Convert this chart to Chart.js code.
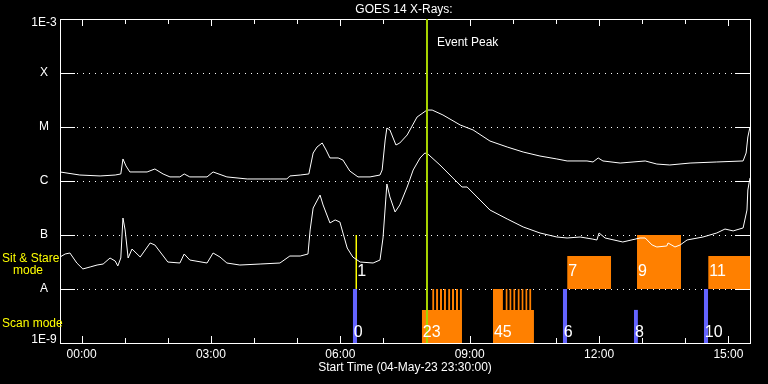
<!DOCTYPE html>
<html lang="en">
<head>
<meta charset="UTF-8">
<title>GOES 14 X-Rays</title>
<script src="https://cdn.jsdelivr.net/npm/chart.js"></script>
<style>
    body { margin: 0; background: #000; }
    canvas { display: block; background: #000; }
</style>
</head>
<body>
<canvas id="xrayChart" width="768" height="384"></canvas>
<script>
// times are hours after 00:00 (plot starts 04-May-23 23:30), flux in W/m^2
const longTimes = [-0.5, -0.04, 0.43, 0.78, 0.91, 0.96, 1.03, 1.12, 1.52, 1.70, 1.89, 2.05, 2.28, 2.38, 2.51, 2.91, 3.05, 3.37, 3.84, 4.37,
    4.76, 4.83, 5.07, 5.27, 5.37, 5.46, 5.58, 5.67, 5.76, 5.95, 6.06, 6.22, 6.41, 6.69, 6.92, 6.97, 7.04, 7.08, 7.15, 7.29,
    7.38, 7.55, 7.78, 8.01, 8.13, 8.38, 8.78, 9.08, 9.47, 9.87, 10.24, 10.63, 11.02, 11.26, 11.72, 11.86, 11.98, 12.09, 12.49, 13.07,
    13.34, 13.64, 14.11, 14.73, 15.34, 15.41, 15.45, 15.5];
const longFlux = [1.47e-6, 1.29e-6, 1.24e-6, 1.29e-6, 1.35e-6, 2.56e-6, 1.90e-6, 1.47e-6, 1.47e-6, 1.67e-6, 1.35e-6, 1.19e-6, 1.19e-6, 1.35e-6, 1.19e-6, 1.19e-6, 1.47e-6, 1.19e-6, 1.09e-6, 1.09e-6,
    1.09e-6, 1.24e-6, 1.29e-6, 1.35e-6, 3.30e-6, 4.26e-6, 5.06e-6, 3.75e-6, 2.67e-6, 2.67e-6, 2.45e-6, 1.53e-6, 1.19e-6, 1.19e-6, 1.29e-6, 1.60e-6, 5.74e-6, 9.58e-6, 8.80e-6, 4.64e-6,
    5.06e-6, 7.11e-6, 1.53e-5, 2.06e-5, 2.06e-5, 1.67e-5, 1.09e-5, 8.80e-6, 5.50e-6, 4.26e-6, 3.44e-6, 2.90e-6, 2.56e-6, 2.35e-6, 2.35e-6, 2.25e-6, 2.67e-6, 2.35e-6, 2.15e-6, 2.35e-6,
    2.06e-6, 1.98e-6, 2.15e-6, 2.25e-6, 2.35e-6, 3.30e-6, 6.53e-6, 1.0e-5];

const shortTimes = [-0.5, -0.38, -0.27, -0.11, 0.03, 0.20, 0.36, 0.50, 0.66, 0.78, 0.84, 0.91, 0.96, 1.01, 1.08, 1.17, 1.36, 1.59, 1.70, 1.93,
    2.00, 2.28, 2.38, 2.51, 2.91, 3.05, 3.21, 3.37, 3.67, 4.14, 4.60, 4.83, 5.07, 5.25, 5.30, 5.37, 5.53, 5.60, 5.76, 5.88,
    5.99, 6.16, 6.29, 6.46, 6.76, 6.92, 6.99, 7.08, 7.15, 7.27, 7.38, 7.55, 7.69, 7.85, 7.96, 8.03, 8.31, 8.61, 8.82, 8.94,
    9.17, 9.47, 9.87, 10.24, 10.63, 11.02, 11.26, 11.56, 11.84, 11.95, 12.00, 12.14, 12.55, 12.95, 13.07, 13.23, 13.34, 13.57, 13.60, 13.76,
    13.88, 14.04, 14.41, 14.73, 14.92, 15.11, 15.34, 15.43, 15.45, 15.5];
const shortFlux = [3.91e-8, 4.45e-8, 4.64e-8, 3.03e-8, 2.35e-8, 2.56e-8, 2.78e-8, 2.90e-8, 3.75e-8, 3.30e-8, 2.67e-8, 3.75e-8, 2.06e-7, 1.24e-7, 3.75e-8, 5.50e-8, 3.91e-8, 7.11e-8, 6.53e-8, 3.75e-8,
    3.16e-8, 3.03e-8, 4.45e-8, 3.44e-8, 3.03e-8, 4.64e-8, 3.91e-8, 3.03e-8, 2.78e-8, 2.90e-8, 3.03e-8, 4.08e-8, 4.08e-8, 4.45e-8, 1.24e-7, 3.16e-7, 5.50e-7, 3.60e-7, 1.67e-7, 1.90e-7,
    1.74e-7, 5.74e-8, 3.91e-8, 3.16e-8, 3.03e-8, 3.44e-8, 8.80e-8, 8.80e-7, 5.06e-7, 2.67e-7, 3.60e-7, 7.74e-7, 1.60e-6, 2.67e-6, 3.30e-6, 3.16e-6, 1.98e-6, 1.14e-6, 7.74e-7, 7.74e-7,
    5.06e-7, 2.90e-7, 1.98e-7, 1.41e-7, 1.09e-7, 9.18e-8, 8.80e-8, 9.18e-8, 8.43e-8, 8.08e-8, 1.09e-7, 8.80e-8, 7.42e-8, 8.80e-8, 8.80e-8, 6.53e-8, 6.00e-8, 6.26e-8, 7.11e-8, 6.00e-8,
    6.53e-8, 8.08e-8, 9.18e-8, 1.09e-7, 1.29e-7, 1.19e-7, 1.35e-7, 2.90e-7, 6.81e-7, 1.14e-6];

// event peak
const peakTime = 8.01;

// scan mode observations (blue)
const scanStart = [6.29, 11.16, 12.81, 14.43];
const scanEnd = [6.39, 11.26, 12.90, 14.53];
const scanTop = [1e-8, 1e-8, 4.1e-9, 1e-8];

// orange blocks in the scan band: half height blocks and full height stripes
const blockStart = [7.89, 9.54];
const blockEnd = [8.82, 10.49];
const blockTop = [4.1e-9, 4.1e-9];
const stripeStart = [8.13, 8.22, 8.31, 8.40, 8.50, 8.59, 8.68, 8.77, 9.54, 9.83, 9.92, 10.01, 10.11, 10.20, 10.29, 10.38];
const stripeEnd = [8.18, 8.27, 8.36, 8.45, 8.55, 8.64, 8.73, 8.82, 9.77, 9.88, 9.97, 10.06, 10.16, 10.25, 10.34, 10.43];

// sit & stare band
const stareLineTime = 6.37;
const stareStart = [11.26, 12.88, 14.53];
const stareEnd = [12.28, 13.90, 15.5];
const stareTop = [4.1e-8, 1e-7, 4.1e-8];

// numbered observations
const obsLabels = ['0', '1', '23', '45', '6', '7', '8', '9', '10', '11'];
const obsTimes = [6.29, 6.37, 7.89, 9.54, 11.16, 11.26, 12.81, 12.88, 14.43, 14.53];
const obsBand = ['scan', 'stare', 'scan', 'scan', 'scan', 'stare', 'scan', 'stare', 'scan', 'stare'];

// axes
const hourTicks = [0, 1, 2, 3, 4, 5, 6, 7, 8, 9, 10, 11, 12, 13, 14, 15];
const hourLabels = {0: '00:00', 3: '03:00', 6: '06:00', 9: '09:00', 12: '12:00', 15: '15:00'};
const fluxTicks = [1e-9, 1e-8, 1e-7, 1e-6, 1e-5, 1e-4, 1e-3];
const fluxLabels = ['1E-9', 'A', 'B', 'C', 'M', 'X', '1E-3'];

const ORANGE = 'rgb(255,128,0)';
const BLUE = 'rgb(100,100,255)';
const PEAK = 'rgb(168,212,0)';
const FONT = '"Liberation Sans", Arial, sans-serif';

function toPoints(times, values) {
    return times.map((t, i) => ({x: t, y: values[i]}));
}

// a run of rectangles as one line with gaps, filled down to the band floor
function rectPoints(starts, ends, tops) {
    const pts = [];
    starts.forEach((s, i) => {
        pts.push({x: s, y: tops[i]}, {x: ends[i], y: tops[i]}, {x: ends[i], y: null});
    });
    return pts;
}

function rectDataset(starts, ends, tops, floor, color) {
    return {
        data: rectPoints(starts, ends, tops),
        borderColor: 'rgba(0,0,0,0)',
        borderWidth: 0,
        backgroundColor: color,
        fill: {value: floor},
        spanGaps: false,
        order: 5
    };
}

const decorations = {
    id: 'decorations',
    beforeDatasetsDraw(chart) {
        const {ctx, chartArea: a, scales: {x, y}} = chart;
        ctx.save();
        ctx.strokeStyle = '#fff';
        ctx.lineWidth = 1;

        // decade lines: solid ticks at both edges, dotted in between
        fluxTicks.slice(1, -1).forEach(v => {
            const py = Math.round(y.getPixelForValue(v)) + 0.5;
            ctx.setLineDash([]);
            ctx.beginPath();
            ctx.moveTo(a.left, py); ctx.lineTo(a.left + 15, py);
            ctx.moveTo(a.right - 15, py); ctx.lineTo(a.right, py);
            ctx.stroke();
            ctx.setLineDash([1, 5]);
            ctx.beginPath();
            ctx.moveTo(a.left + 17, py); ctx.lineTo(a.right - 15, py);
            ctx.stroke();
        });
        ctx.setLineDash([]);

        // hour ticks on top and bottom edges
        ctx.beginPath();
        hourTicks.forEach(h => {
            const px = Math.round(x.getPixelForValue(h)) + 0.5;
            const len = h % 3 === 0 ? 7 : 5;
            ctx.moveTo(px, a.bottom); ctx.lineTo(px, a.bottom - len);
            ctx.moveTo(px, a.top); ctx.lineTo(px, a.top + len);
        });
        ctx.stroke();

        ctx.strokeRect(a.left + 0.5, a.top + 0.5, a.right - a.left, a.bottom - a.top);
        ctx.restore();
    },
    afterDraw(chart) {
        const {ctx, chartArea: a, scales: {x, y}} = chart;
        ctx.save();
        ctx.fillStyle = '#fff';
        ctx.font = '12px ' + FONT;
        ctx.textBaseline = 'middle';

        ctx.textAlign = 'center';
        ctx.fillText('GOES 14 X-Rays:', 404, 10);
        hourTicks.forEach(h => {
            if (hourLabels[h]) ctx.fillText(hourLabels[h], x.getPixelForValue(h), 355);
        });
        ctx.fillText('Start Time (04-May-23 23:30:00)', 405, 368);

        fluxTicks.forEach((v, i) => {
            const py = Math.min(Math.max(y.getPixelForValue(v), a.top + 4), a.bottom - 3);
            ctx.fillText(fluxLabels[i], 44, py);
        });

        ctx.textAlign = 'left';
        ctx.fillText('Event Peak', x.getPixelForValue(peakTime) + 10, a.top + 24);

        ctx.fillStyle = '#ffff00';
        ctx.fillText('Sit & Stare', 2, 259);
        ctx.fillText('mode', 13, 271);
        ctx.fillText('Scan mode', 2, 324);

        ctx.fillStyle = '#fff';
        ctx.font = '16px ' + FONT;
        const stareFloor = y.getPixelForValue(1e-8);
        obsLabels.forEach((lab, i) => {
            const py = obsBand[i] === 'scan' ? a.bottom - 10 : stareFloor - 17;
            ctx.fillText(lab, x.getPixelForValue(obsTimes[i]) + 1, py);
        });
        ctx.restore();
    }
};

new Chart(document.getElementById('xrayChart'), {
    type: 'line',
    data: {
        datasets: [
            {data: [{x: peakTime, y: 1e-9}, {x: peakTime, y: 1e-3}], borderColor: PEAK, borderWidth: 2, order: 0},
            {data: toPoints(longTimes, longFlux), borderColor: '#fff', borderWidth: 1, order: 1},
            {data: toPoints(shortTimes, shortFlux), borderColor: '#fff', borderWidth: 1, order: 2},
            {data: [{x: stareLineTime, y: 1e-8}, {x: stareLineTime, y: 1e-7}], borderColor: '#ffff00', borderWidth: 1.5, order: 3},
            rectDataset(scanStart, scanEnd, scanTop, 1e-9, BLUE),
            rectDataset(blockStart, blockEnd, blockTop, 1e-9, ORANGE),
            rectDataset(stripeStart, stripeEnd, stripeStart.map(() => 1e-8), 1e-9, ORANGE),
            rectDataset(stareStart, stareEnd, stareTop, 1e-8, ORANGE)
        ]
    },
    options: {
        responsive: false,
        animation: false,
        devicePixelRatio: 1,
        layout: {padding: {left: 60, right: 18, top: 19, bottom: 41}},
        scales: {
            x: {type: 'linear', min: -0.5, max: 15.5, display: false},
            y: {type: 'logarithmic', min: 1e-9, max: 1e-3, display: false}
        },
        elements: {point: {radius: 0}, line: {tension: 0}},
        plugins: {legend: {display: false}, tooltip: {enabled: false}}
    },
    plugins: [decorations]
});
</script>
</body>
</html>
